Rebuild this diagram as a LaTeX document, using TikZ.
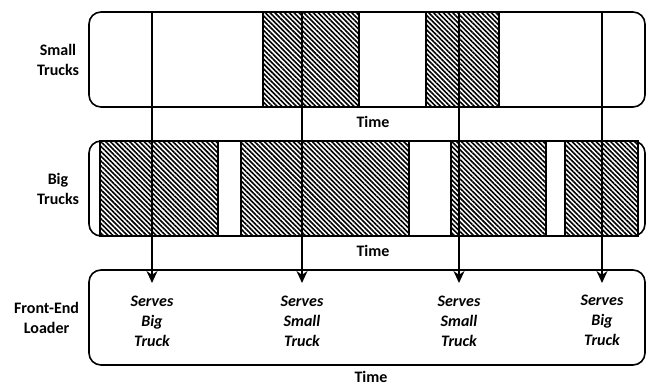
\documentclass[tikz,border=0pt]{standalone}
\usepackage{fontspec}
\setmainfont{Carlito}
\usetikzlibrary{positioning,patterns.meta,arrows.meta}

\begin{document}
\begin{tikzpicture}[x=1pt,y=-1pt,
   lane/.style={draw,line width=1.6pt,rounded corners=12pt,minimum width=556pt,minimum height=95pt,inner sep=0pt},
   busy/.style={draw,line width=1.4pt,pattern={Lines[angle=-45,distance=3.4pt,line width=1.6pt]}},
   serve/.style={-{Stealth[length=12pt,width=11pt]},line width=1.8pt},
   rowlabel/.style={font=\bfseries\fontsize{16}{20}\selectfont,align=center,inner sep=0pt},
   task/.style={font=\bfseries\itshape\fontsize{16}{20}\selectfont,align=center,inner sep=0pt}]
   \useasboundingbox (0,0) rectangle (646,387);

   % the three time lines
   \node[lane] (small)  at (367,59.5)  {};
   \node[lane] (big)    at (367,188.5) {};
   \node[lane] (loader) at (367,317.5) {};

   \node[rowlabel,left=9pt of small]  {Small\\Trucks};
   \node[rowlabel,left=9pt of big]    {Big\\Trucks};
   \node[rowlabel,left=9pt of loader] {Front-End\\Loader};

   \node[rowlabel] (t1) at (373,122) {Time};
   \node[rowlabel] (t2) at (373,251) {Time};
   \node[rowlabel] (t3) at (371,377) {Time};

   % busy periods
   \draw[busy] (263,12) rectangle (359,107);
   \draw[busy] (426,12) rectangle (499,107);
   \draw[busy] (100,141) rectangle (218,236);
   \draw[busy] (241,141) rectangle (409,236);
   \draw[busy] (451,141) rectangle (546,236);
   \draw[busy] (565,141) rectangle (638,236);

   % loader switches
   \coordinate (s1) at (152,12);  \coordinate (e1) at (152,283);
   \coordinate (s2) at (302,12);  \coordinate (e2) at (302,283);
   \coordinate (s3) at (459,12);  \coordinate (e3) at (459,283);
   \coordinate (s4) at (602,12);  \coordinate (e4) at (602,283);
   \foreach \i in {1,...,4}
      \draw[serve] (s\i) -- (e\i);

   \node[task] (j1) at (152,321) {Serves\\Big\\Truck};
   \node[task] (j2) at (302,321) {Serves\\Small\\Truck};
   \node[task] (j3) at (459,321) {Serves\\Small\\Truck};
   \node[task] (j4) at (602,320) {Serves\\Big\\Truck};
\end{tikzpicture}
\end{document}
